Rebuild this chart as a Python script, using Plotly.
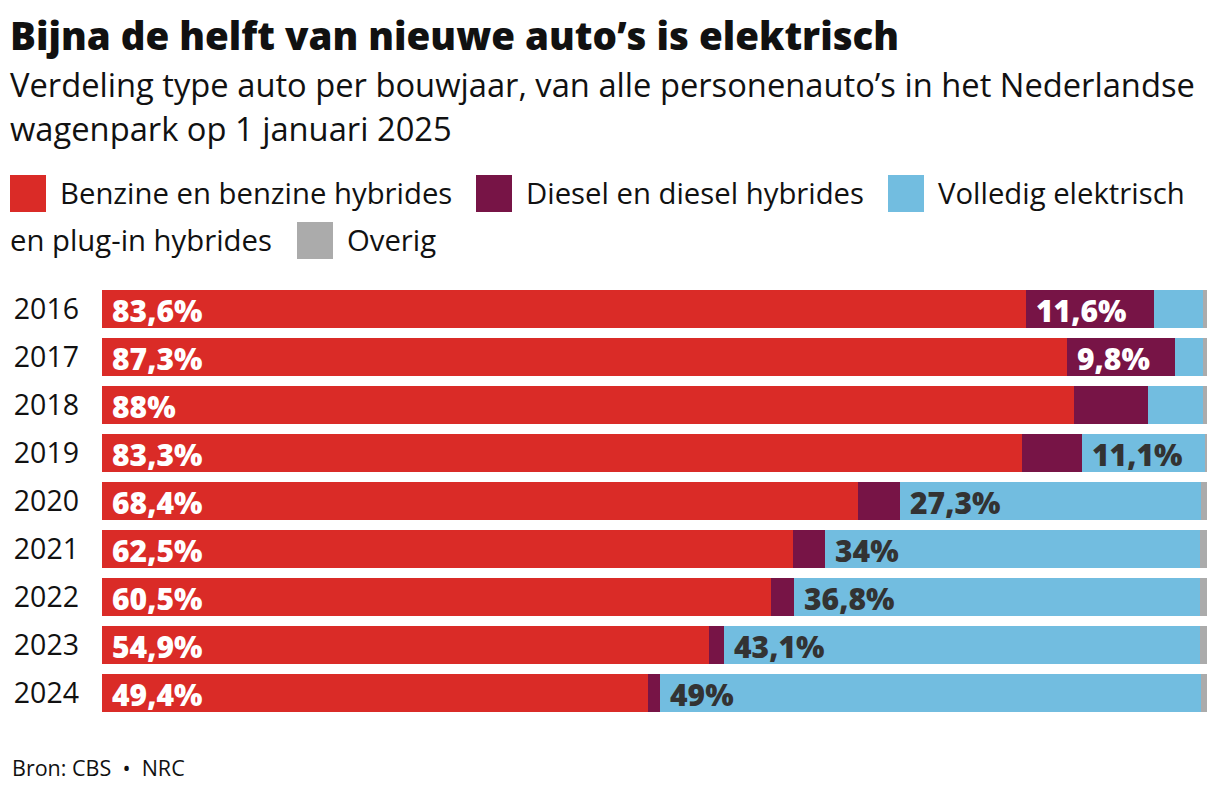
import plotly.graph_objects as go

years = ["2016", "2017", "2018", "2019", "2020", "2021", "2022", "2023", "2024"]
benzine = [83.6, 87.3, 88.0, 83.3, 68.4, 62.5, 60.5, 54.9, 49.4]
diesel = [11.6, 9.8, 6.7, 5.4, 3.8, 2.9, 2.1, 1.4, 1.1]
elektrisch = [4.4, 2.5, 4.9, 11.1, 27.3, 34.0, 36.8, 43.1, 49.0]
overig = [0.4, 0.4, 0.4, 0.2, 0.5, 0.6, 0.6, 0.6, 0.5]

benzine_labels = ["83,6%", "87,3%", "88%", "83,3%", "68,4%", "62,5%", "60,5%", "54,9%", "49,4%"]
diesel_labels = ["11,6%", "9,8%", "", "", "", "", "", "", ""]
elektrisch_labels = ["", "", "", "11,1%", "27,3%", "34%", "36,8%", "43,1%", "49%"]

names = ["Benzine en benzine hybrides", "Diesel en diesel hybrides",
         "Volledig elektrisch en plug-in hybrides", "Overig"]
colors = ["#DA2B27", "#771446", "#72BDE0", "#ABABAB"]

W, H = 1220, 794
L, R, T, B = 102, 13, 285, 77
PW, PH = W - L - R, H - T - B
FONT = "Open Sans"


def px(x):
    return (x - L) / PW


def py(y):
    return (H - B - y) / PH


fig = go.Figure()
for vals, name, col in zip([benzine, diesel, elektrisch, overig], names, colors):
    fig.add_trace(go.Bar(y=years, x=vals, name=name, orientation="h",
                         marker=dict(color=col, line=dict(width=0)),
                         showlegend=False, hoverinfo="x+name"))

annotations = []
# data labels (category axis: y given as category index)
for i, y in enumerate(years):
    bases = [0, benzine[i], benzine[i] + diesel[i]]
    labs = [benzine_labels[i], diesel_labels[i], elektrisch_labels[i]]
    cols = ["white", "white", "#333333"]
    for b, lab, c in zip(bases, labs, cols):
        if lab:
            annotations.append(dict(x=b, y=i, xref="x", yref="y", text=lab, showarrow=False,
                                    xanchor="left", yanchor="middle", xshift=8, yshift=-1,
                                    font=dict(family=FONT, size=30, color=c, weight=800)))

# title + subtitle
annotations.append(dict(x=px(8), y=py(35), xref="paper", yref="paper", xanchor="left", yanchor="middle",
                        text="Bijna de helft van nieuwe auto’s is elektrisch", showarrow=False,
                        font=dict(family=FONT, size=38.5, color="#111111", weight=800)))
annotations.append(dict(x=px(8), y=py(84), xref="paper", yref="paper", xanchor="left", yanchor="middle",
                        text="Verdeling type auto per bouwjaar, van alle personenauto’s in het Nederlandse",
                        showarrow=False, font=dict(family=FONT, size=32.7, color="#111111")))
annotations.append(dict(x=px(8), y=py(129), xref="paper", yref="paper", xanchor="left", yanchor="middle",
                        text="wagenpark op 1 januari 2025",
                        showarrow=False, font=dict(family=FONT, size=32.7, color="#111111")))

# legend (manual, wrapped like reference)
shapes = []
legend_sq = [(10, 175, colors[0]), (476, 175, colors[1]), (888, 175, colors[2]), (297, 222, colors[3])]
for x0, y0, c in legend_sq:
    shapes.append(dict(type="rect", xref="paper", yref="paper", x0=px(x0), x1=px(x0 + 36),
                       y0=py(y0 + 37), y1=py(y0), fillcolor=c, line=dict(width=0)))
legend_txt = [(58, 193, "Benzine en benzine hybrides"), (524, 193, "Diesel en diesel hybrides"),
              (936, 193, "Volledig elektrisch"), (8, 240, "en plug-in hybrides"), (345, 240, "Overig")]
for x0, yc, t in legend_txt:
    annotations.append(dict(x=px(x0), y=py(yc), xref="paper", yref="paper", xanchor="left", yanchor="middle",
                            text=t, showarrow=False, font=dict(family=FONT, size=29.3, color="#111111")))

annotations.append(dict(x=px(10), y=py(767), xref="paper", yref="paper", xanchor="left", yanchor="middle",
                        text="Bron: CBS  •  NRC", showarrow=False,
                        font=dict(family=FONT, size=21.5, color="#111111")))

fig.update_layout(
    width=W, height=H, margin=dict(l=L, r=R, t=T, b=B),
    barmode="stack", bargap=0.208,
    plot_bgcolor="white", paper_bgcolor="white",
    xaxis=dict(range=[0, 100], visible=False, fixedrange=True),
    yaxis=dict(type="category", range=[len(years) - 0.5, -0.5], showgrid=False, zeroline=False,
               showline=False, ticks="", ticklabelstandoff=22, fixedrange=True,
               tickfont=dict(family=FONT, size=28.5, color="#111111")),
    annotations=annotations, shapes=shapes,
)

fig.write_html("out.html", post_script="document.body.style.margin='0';",
               config={"displayModeBar": False})
